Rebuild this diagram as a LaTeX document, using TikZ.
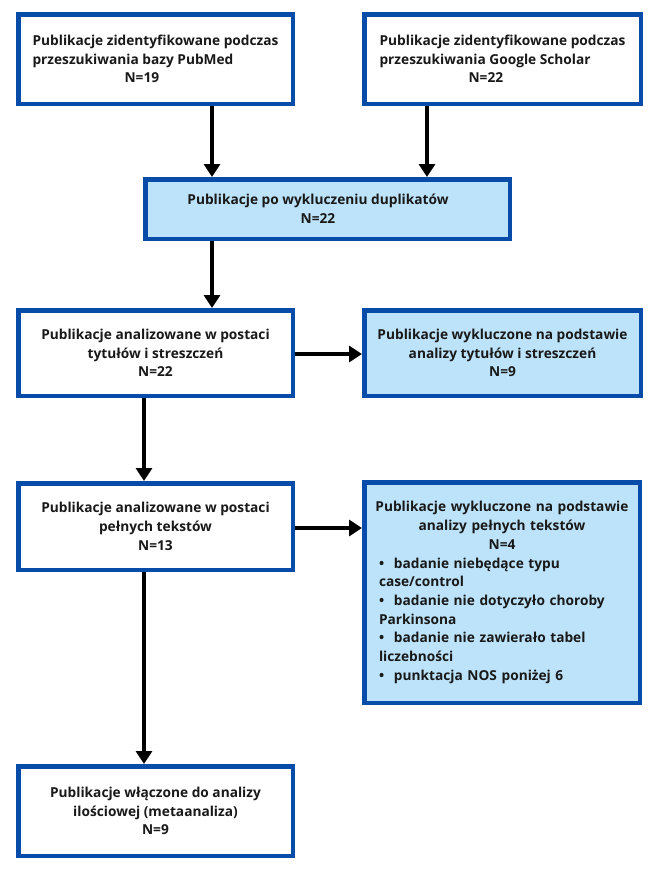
\documentclass[tikz,border=0pt]{standalone}
\usepackage{fontspec}
\setmainfont{Open Sans}
\usepackage{xcolor}
\usetikzlibrary{arrows.meta}

\definecolor{ramka}{RGB}{8,76,170}
\definecolor{jasny}{RGB}{189,227,250}

\newcommand{\punkt}[1]{\par\hangindent=15pt\hangafter=1\noindent\hbox to 15pt{\textbullet\hfil}#1}

\tikzset{
  pole/.style={draw=ramka, line width=4.5pt, fill=white, inner sep=0pt,
    font=\fontsize{13.7}{18.7}\selectfont\bfseries, text=black!90},
  szare/.style={pole, fill=jasny},
  strzalka/.style={line width=3.5pt, -{Triangle[width=16pt,length=13pt]}}
}

\begin{document}
\begin{tikzpicture}[x=1pt,y=-1pt]
        \useasboundingbox (0,0) rectangle (653,870);
        \node[pole, minimum width=274.5pt, minimum height=89.5pt, align=left] (pubmed) at (155.5,59)
          {Publikacje zidentyfikowane podczas\\przeszukiwania bazy PubMed\\\hspace*{92pt}N=19};
        \node[pole, minimum width=276.5pt, minimum height=89.5pt, align=left] (scholar) at (502.5,59)
          {Publikacje zidentyfikowane podczas\\przeszukiwania Google Scholar\\\hspace*{89pt}N=22};
        \node[szare, minimum width=364.5pt, minimum height=59.5pt] (dupl) at (327.5,209) {};
        \node[font=\fontsize{13.7}{18.7}\selectfont\bfseries, text=black!90, align=center] (dupltxt) at (318,209)
          {Publikacje po wykluczeniu duplikatów\\N=22};
        \node[pole, minimum width=274.5pt, minimum height=85.5pt, align=center] (tytuly) at (155.5,353)
          {Publikacje analizowane w postaci\\tytułów i streszczeń\\N=22};
        \node[szare, minimum width=276.5pt, minimum height=85.5pt, align=center] (wykltyt) at (502.5,353)
          {Publikacje wykluczone na podstawie\\analizy tytułów i streszczeń\\N=9};
        \node[pole, minimum width=274.5pt, minimum height=86.5pt, align=center] (pelne) at (155.5,526.5)
          {Publikacje analizowane w postaci\\pełnych tekstów\\N=13};
        \node[szare, minimum width=275.5pt, minimum height=220.5pt, text width=262pt] (wyklpel) at (502,592.5)
          {\centering Publikacje wykluczone na podstawie\\analizy pełnych tekstów\\N=4\par
           \raggedright\leftskip=8pt
           \punkt{badanie niebędące typu\\case/control}
           \punkt{badanie nie dotyczyło choroby\\Parkinsona}
           \punkt{badanie nie zawierało tabel\\liczebności}
           \punkt{punktacja NOS poniżej 6}\par};
        \node[pole, minimum width=274.5pt, minimum height=89.5pt, align=center] (wlaczone) at (155.5,811)
          {Publikacje włączone do analizy\\ilościowej (metaanaliza)\\N=9};
        \coordinate (kolA) at (212,0);
        \coordinate (kolB) at (427,0);
        \coordinate (kolC) at (144,0);
        \coordinate (wierszA) at (0,354);
        \coordinate (wierszB) at (0,528);
        \draw[strzalka] (pubmed.south -| kolA) -- (dupl.north -| kolA);
        \draw[strzalka] (scholar.south -| kolB) -- (dupl.north -| kolB);
        \draw[strzalka] (dupl.south -| kolA) -- (tytuly.north -| kolA);
        \draw[strzalka] (tytuly.east |- wierszA) -- (wykltyt.west |- wierszA);
        \draw[strzalka] (tytuly.south -| kolC) -- (pelne.north -| kolC);
        \draw[strzalka] (pelne.east |- wierszB) -- (wyklpel.west |- wierszB);
        \draw[strzalka] (pelne.south -| kolC) -- (wlaczone.north -| kolC);
\end{tikzpicture}
\end{document}
